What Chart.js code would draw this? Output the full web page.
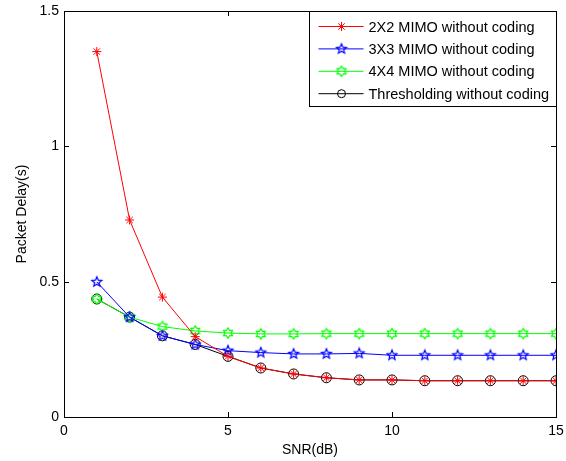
<!DOCTYPE html>
<html>
<head>
<meta charset="utf-8">
<script src="https://cdn.jsdelivr.net/npm/chart.js@4.4.1/dist/chart.umd.min.js"></script>
<style>
  html, body { margin: 0; padding: 0; background: #fff; }
  #delayChart { display: block; }
</style>
</head>
<body>
<canvas id="delayChart" width="566" height="461"></canvas>
<script>
// data
const snr = [1, 2, 3, 4, 5, 6, 7, 8, 9, 10, 11, 12, 13, 14, 15];
const delay2x2 = [1.350, 0.728, 0.443, 0.297, 0.224, 0.181, 0.159, 0.145, 0.137, 0.137, 0.134, 0.134, 0.134, 0.134, 0.134];
const delay3x3 = [0.499, 0.369, 0.300, 0.268, 0.245, 0.238, 0.233, 0.233, 0.235, 0.228, 0.228, 0.228, 0.228, 0.228, 0.228];
const delay4x4 = [0.436, 0.369, 0.334, 0.318, 0.310, 0.307, 0.307, 0.308, 0.308, 0.308, 0.308, 0.308, 0.308, 0.308, 0.308];
const delayThreshold = [0.436, 0.369, 0.300, 0.268, 0.224, 0.181, 0.159, 0.145, 0.137, 0.137, 0.134, 0.134, 0.134, 0.134, 0.134];
const seriesNames = ['2X2 MIMO without coding', '3X3 MIMO without coding', '4X4 MIMO without coding', 'Thresholding without coding'];
const xTicks = [0, 5, 10, 15];
const yTicks = [0, 0.5, 1, 1.5];

const FONT = "'Liberation Sans', Arial, sans-serif";
Chart.defaults.font.family = FONT;
Chart.defaults.font.size = 14;
Chart.defaults.color = '#000';

// star shaped markers drawn on small canvases
function starMarker(points, outer, inner, color) {
    const size = Math.ceil(outer * 2 + 3);
    const c = document.createElement('canvas');
    c.width = size;
    c.height = size;
    const g = c.getContext('2d');
    const cx = size / 2, cy = size / 2;
    g.beginPath();
    for (let i = 0; i < points * 2; i++) {
        const r = i % 2 === 0 ? outer : inner;
        const a = -Math.PI / 2 + i * Math.PI / points;
        const px = cx + r * Math.cos(a), py = cy + r * Math.sin(a);
        if (i === 0) g.moveTo(px, py); else g.lineTo(px, py);
    }
    g.closePath();
    g.strokeStyle = color;
    g.lineWidth = 1.2;
    g.stroke();
    return c;
}

const pentagram = starMarker(5, 5.2, 2.3, '#0000ff');
const hexagram = starMarker(6, 5.2, 3.1, '#00ff00');

function toPoints(values) {
    return values.map((v, i) => ({ x: snr[i], y: v }));
}

// box around the plot with inward ticks, like a matlab axes
const axesBox = {
    id: 'axesBox',
    afterDatasetsDraw(chart) {
        const { ctx, chartArea: a, scales } = chart;
        ctx.save();
        ctx.strokeStyle = '#000';
        ctx.lineWidth = 1;
        ctx.beginPath();
        xTicks.forEach(t => {
            const px = Math.round(scales.x.getPixelForValue(t)) + 0.5;
            ctx.moveTo(px, a.bottom); ctx.lineTo(px, a.bottom - 5);
            ctx.moveTo(px, a.top); ctx.lineTo(px, a.top + 5);
        });
        yTicks.forEach(t => {
            const py = Math.round(scales.y.getPixelForValue(t)) + 0.5;
            ctx.moveTo(a.left, py); ctx.lineTo(a.left + 5, py);
            ctx.moveTo(a.right, py); ctx.lineTo(a.right - 5, py);
        });
        ctx.stroke();
        ctx.strokeRect(Math.round(a.left) + 0.5, Math.round(a.top) + 0.5,
            Math.round(a.right - a.left), Math.round(a.bottom - a.top));
        ctx.restore();
    }
};

// legend box in the top right corner with line + marker samples
const boxLegend = {
    id: 'boxLegend',
    afterDraw(chart) {
        const { ctx, chartArea: a } = chart;
        const w = 247, h = 95;
        const x0 = Math.round(a.right - w) + 0.5, y0 = Math.round(a.top) + 0.5;
        ctx.save();
        ctx.fillStyle = '#fff';
        ctx.fillRect(x0, y0, w, h);
        ctx.strokeStyle = '#000';
        ctx.lineWidth = 1;
        ctx.strokeRect(x0, y0, w, h);
        ctx.font = '14.5px ' + FONT;
        ctx.textBaseline = 'middle';
        chart.data.datasets.forEach((ds, i) => {
            const y = y0 + 15 + i * 22.4;
            ctx.strokeStyle = ds.borderColor;
            ctx.beginPath();
            ctx.moveTo(x0 + 9, y);
            ctx.lineTo(x0 + 54, y);
            ctx.stroke();
            ctx.fillStyle = 'rgba(0,0,0,0)';
            Chart.helpers.drawPoint(ctx, {
                pointStyle: ds.pointStyle,
                radius: ds.pointStyle === 'circle' ? 4 : ds.pointRadius,
                borderWidth: 1
            }, x0 + 32, y);
            ctx.fillStyle = '#000';
            ctx.fillText(ds.label, x0 + 59, y + 1);
        });
        ctx.restore();
    }
};

new Chart(document.getElementById('delayChart'), {
    type: 'line',
    data: {
        datasets: [{
            label: seriesNames[0],
            data: toPoints(delay2x2),
            borderColor: '#ff0000',
            borderWidth: 1,
            pointStyle: 'star',
            pointRadius: 4.5,
            pointBorderColor: '#ff0000',
            pointBorderWidth: 1
        }, {
            label: seriesNames[1],
            data: toPoints(delay3x3),
            borderColor: '#0000ff',
            borderWidth: 1,
            pointStyle: pentagram,
            pointRadius: 5
        }, {
            label: seriesNames[2],
            data: toPoints(delay4x4),
            borderColor: '#00ff00',
            borderWidth: 1,
            pointStyle: hexagram,
            pointRadius: 5
        }, {
            label: seriesNames[3],
            data: toPoints(delayThreshold),
            borderColor: '#000000',
            borderWidth: 1,
            pointStyle: 'circle',
            pointRadius: 5,
            pointBorderColor: '#000000',
            pointBackgroundColor: 'rgba(0,0,0,0)',
            pointBorderWidth: 1
        }]
    },
    options: {
        responsive: false,
        animation: false,
        devicePixelRatio: 1,
        layout: { padding: { left: 14, right: 10, top: 11, bottom: 0 } },
        plugins: {
            legend: { display: false },
            tooltip: { enabled: false }
        },
        scales: {
            x: {
                type: 'linear',
                min: 0,
                max: 15,
                afterFit: s => { s.height = 44; s.paddingLeft = 0; s.paddingRight = 0; },
                afterBuildTicks: s => { s.ticks = xTicks.map(v => ({ value: v })); },
                ticks: { padding: 6, maxRotation: 0, callback: v => String(v) },
                grid: { display: false, drawTicks: false },
                border: { display: false },
                title: { display: true, text: 'SNR(dB)', padding: { top: 0, bottom: 2 } }
            },
            y: {
                type: 'linear',
                min: 0,
                max: 1.5,
                afterFit: s => { s.width = 50; s.paddingTop = 0; s.paddingBottom = 0; },
                afterBuildTicks: s => { s.ticks = yTicks.map(v => ({ value: v })); },
                ticks: { padding: 5, callback: v => String(v) },
                grid: { display: false, drawTicks: false },
                border: { display: false },
                title: { display: true, text: 'Packet Delay(s)', padding: 0 }
            }
        }
    },
    plugins: [axesBox, boxLegend]
});
</script>
</body>
</html>
